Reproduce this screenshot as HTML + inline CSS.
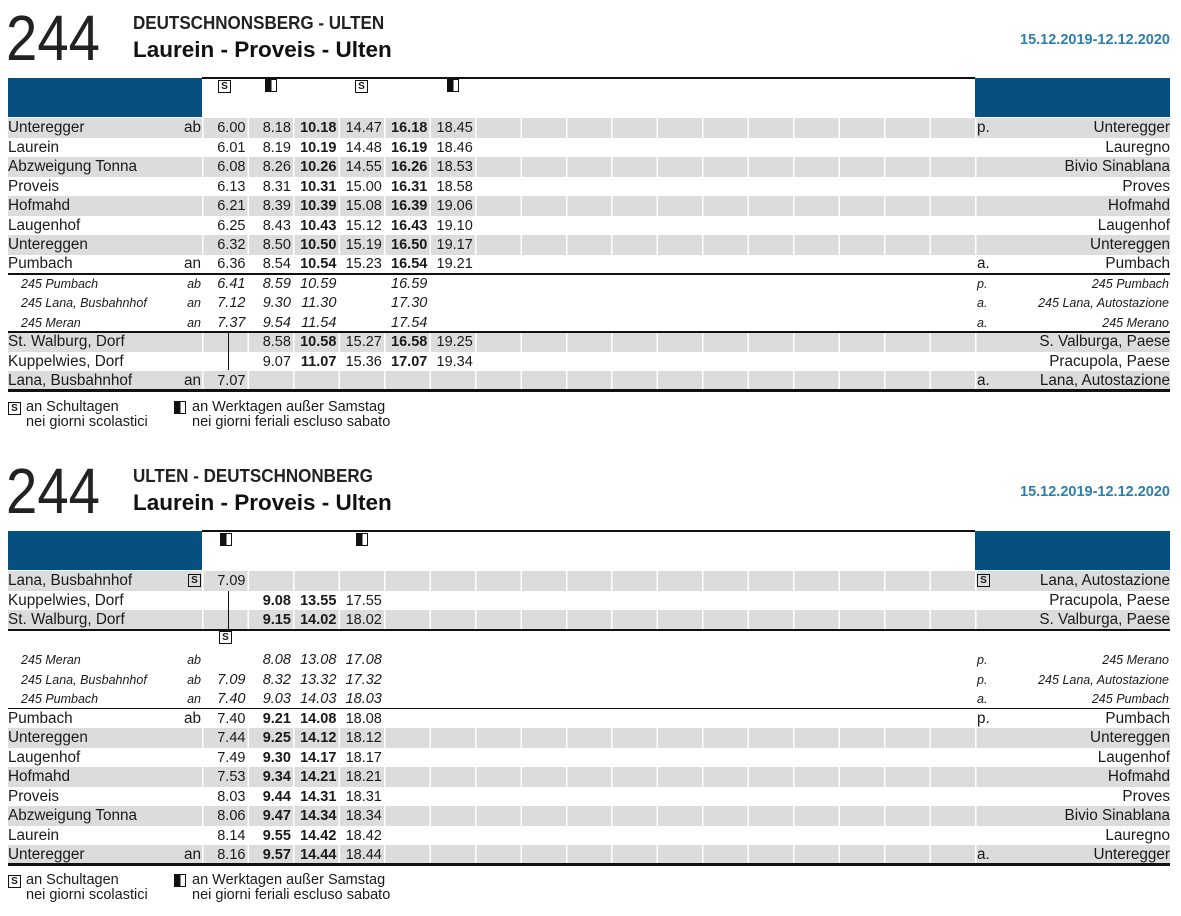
<!DOCTYPE html>
<html><head><meta charset="utf-8"><style>
*{margin:0;padding:0}
body{width:1181px;height:916px;background:#fff;position:relative;overflow:hidden;font-family:"Liberation Sans",Arial,sans-serif;color:#1a1a1a}
.a{position:absolute}
.num{font-size:64px;line-height:64px;transform:scaleX(.88);transform-origin:left;color:#222;left:6px}
.t1{left:133px;font-size:18.5px;font-weight:bold;transform:scaleX(.92);transform-origin:left;line-height:22px;color:#222}
.t2{left:133px;font-size:22.5px;font-weight:bold;line-height:24px;color:#111}
.date{right:11px;font-size:14.5px;font-weight:bold;color:#2b7fad;line-height:16px}
.blue{background:#05507f}
.ln{left:8px;width:1162px;background:#111}
.r{position:absolute;left:8px;width:1162px;height:19.5px;line-height:20px;display:flex;font-size:14.5px}
.g{background:#dcdcdd}
.g::before{content:"";position:absolute;left:194px;width:775px;top:0;bottom:0;background:repeating-linear-gradient(90deg,#fff 0 1.5px,transparent 1.5px 45.47px)}
.l{width:194px;display:flex;justify-content:space-between;padding-right:1px;box-sizing:border-box;position:relative;font-size:15.3px}
.l em,.rt em{font-style:normal}
.t{width:45.47px;text-align:right;padding-right:2px;box-sizing:border-box;position:relative;z-index:1}
.b{font-weight:bold}
.rt{position:absolute;left:967px;width:195px;display:flex;justify-content:space-between;padding-left:2px;box-sizing:border-box;z-index:1;font-size:15.3px}
.it{font-style:italic}
.it .l{font-size:12.5px;padding-left:13px}
.it .l em,.it .rt em{font-style:italic}
.it .rt{font-size:12.5px;padding-right:1px}
.s{display:inline-block;width:11px;height:11px;border:1.3px solid #111;font-size:10px;font-weight:bold;line-height:11px;text-align:center;font-style:normal;vertical-align:middle}
.h{display:inline-block;width:10px;height:11px;border:1.5px solid #111;background:linear-gradient(90deg,#111 55%,#fff 55%)}
.vl{width:1.2px;background:#111;left:227.5px}
.leg{font-size:14.5px;line-height:15px}
</style></head><body>

<!-- TOP -->
<div class="a num" style="top:6px">244</div>
<div class="a t1" style="top:12px">DEUTSCHNONSBERG - ULTEN</div>
<div class="a t2" style="top:38px">Laurein - Proveis - Ulten</div>
<div class="a date" style="top:32px">15.12.2019-12.12.2020</div>

<div class="a" style="left:202px;top:77px;width:773px;height:2px;background:#111"></div>
<div class="a blue" style="left:8px;top:78px;width:194px;height:39px"></div>
<div class="a blue" style="left:975px;top:78px;width:195px;height:39px"></div>
<span class="a s" style="left:218px;top:80px">S</span>
<span class="a h" style="left:265px;top:79px"></span>
<span class="a s" style="left:355px;top:80px">S</span>
<span class="a h" style="left:447px;top:79px"></span>

<div class="r g" style="top:118px"><span class="l">Unteregger<em>ab</em></span><span class="t">6.00</span><span class="t">8.18</span><span class="t b">10.18</span><span class="t">14.47</span><span class="t b">16.18</span><span class="t">18.45</span><span class="rt"><em>p.</em>Unteregger</span></div>
<div class="r" style="top:137.5px"><span class="l">Laurein</span><span class="t">6.01</span><span class="t">8.19</span><span class="t b">10.19</span><span class="t">14.48</span><span class="t b">16.19</span><span class="t">18.46</span><span class="rt"><em></em>Lauregno</span></div>
<div class="r g" style="top:157px"><span class="l">Abzweigung Tonna</span><span class="t">6.08</span><span class="t">8.26</span><span class="t b">10.26</span><span class="t">14.55</span><span class="t b">16.26</span><span class="t">18.53</span><span class="rt"><em></em>Bivio Sinablana</span></div>
<div class="r" style="top:176.5px"><span class="l">Proveis</span><span class="t">6.13</span><span class="t">8.31</span><span class="t b">10.31</span><span class="t">15.00</span><span class="t b">16.31</span><span class="t">18.58</span><span class="rt"><em></em>Proves</span></div>
<div class="r g" style="top:196px"><span class="l">Hofmahd</span><span class="t">6.21</span><span class="t">8.39</span><span class="t b">10.39</span><span class="t">15.08</span><span class="t b">16.39</span><span class="t">19.06</span><span class="rt"><em></em>Hofmahd</span></div>
<div class="r" style="top:215.5px"><span class="l">Laugenhof</span><span class="t">6.25</span><span class="t">8.43</span><span class="t b">10.43</span><span class="t">15.12</span><span class="t b">16.43</span><span class="t">19.10</span><span class="rt"><em></em>Laugenhof</span></div>
<div class="r g" style="top:235px"><span class="l">Untereggen</span><span class="t">6.32</span><span class="t">8.50</span><span class="t b">10.50</span><span class="t">15.19</span><span class="t b">16.50</span><span class="t">19.17</span><span class="rt"><em></em>Untereggen</span></div>
<div class="r" style="top:254px"><span class="l">Pumbach<em>an</em></span><span class="t">6.36</span><span class="t">8.54</span><span class="t b">10.54</span><span class="t">15.23</span><span class="t b">16.54</span><span class="t">19.21</span><span class="rt"><em>a.</em>Pumbach</span></div>
<div class="a ln" style="top:273px;height:1.5px"></div>
<div class="r it" style="top:274px"><span class="l">245 Pumbach<em>ab</em></span><span class="t">6.41</span><span class="t">8.59</span><span class="t">10.59</span><span class="t"></span><span class="t">16.59</span><span class="rt"><em>p.</em>245 Pumbach</span></div>
<div class="r it" style="top:293px"><span class="l">245 Lana, Busbahnhof<em>an</em></span><span class="t">7.12</span><span class="t">9.30</span><span class="t">11.30</span><span class="t"></span><span class="t">17.30</span><span class="rt"><em>a.</em>245 Lana, Autostazione</span></div>
<div class="r it" style="top:312.5px"><span class="l">245 Meran<em>an</em></span><span class="t">7.37</span><span class="t">9.54</span><span class="t">11.54</span><span class="t"></span><span class="t">17.54</span><span class="rt"><em>a.</em>245 Merano</span></div>
<div class="r g" style="top:332px"><span class="l">St. Walburg, Dorf</span><span class="t"></span><span class="t">8.58</span><span class="t b">10.58</span><span class="t">15.27</span><span class="t b">16.58</span><span class="t">19.25</span><span class="rt"><em></em>S. Valburga, Paese</span></div>
<div class="r" style="top:351.5px"><span class="l">Kuppelwies, Dorf</span><span class="t"></span><span class="t">9.07</span><span class="t b">11.07</span><span class="t">15.36</span><span class="t b">17.07</span><span class="t">19.34</span><span class="rt"><em></em>Pracupola, Paese</span></div>
<div class="r g" style="top:371px"><span class="l">Lana, Busbahnhof<em>an</em></span><span class="t">7.07</span><span class="rt"><em>a.</em>Lana, Autostazione</span></div>
<div class="a ln" style="top:331px;height:1.5px"></div>
<div class="a ln" style="top:389px;height:2.5px"></div>
<div class="a vl" style="top:331px;height:39px"></div>

<span class="a s" style="left:8px;top:402px">S</span>
<div class="a leg" style="left:26px;top:400px">an Schultagen<br>nei giorni scolastici</div>
<span class="a h" style="left:174px;top:401px"></span>
<div class="a leg" style="left:192px;top:400px">an Werktagen außer Samstag<br>nei giorni feriali escluso sabato</div>

<!-- BOTTOM -->
<div class="a num" style="top:459px">244</div>
<div class="a t1" style="top:465px">ULTEN - DEUTSCHNONBERG</div>
<div class="a t2" style="top:491px">Laurein - Proveis - Ulten</div>
<div class="a date" style="top:484px">15.12.2019-12.12.2020</div>

<div class="a" style="left:202px;top:530px;width:773px;height:2px;background:#111"></div>
<div class="a blue" style="left:8px;top:531px;width:194px;height:39px"></div>
<div class="a blue" style="left:975px;top:531px;width:195px;height:39px"></div>
<span class="a h" style="left:220px;top:533px"></span>
<span class="a h" style="left:356px;top:533px"></span>

<div class="r g" style="top:571px"><span class="l">Lana, Busbahnhof<em><span class="s">S</span></em></span><span class="t">7.09</span><span class="rt"><em><span class="s">S</span></em>Lana, Autostazione</span></div>
<div class="r" style="top:590.5px"><span class="l">Kuppelwies, Dorf</span><span class="t"></span><span class="t b">9.08</span><span class="t b">13.55</span><span class="t">17.55</span><span class="rt"><em></em>Pracupola, Paese</span></div>
<div class="r g" style="top:610px"><span class="l">St. Walburg, Dorf</span><span class="t"></span><span class="t b">9.15</span><span class="t b">14.02</span><span class="t">18.02</span><span class="rt"><em></em>S. Valburga, Paese</span></div>
<div class="a ln" style="top:629px;height:1.5px"></div>
<div class="a vl" style="top:591px;height:39px"></div>
<span class="a s" style="left:219px;top:631px">S</span>
<div class="r it" style="top:650px"><span class="l">245 Meran<em>ab</em></span><span class="t"></span><span class="t">8.08</span><span class="t">13.08</span><span class="t">17.08</span><span class="rt"><em>p.</em>245 Merano</span></div>
<div class="r it" style="top:669.5px"><span class="l">245 Lana, Busbahnhof<em>ab</em></span><span class="t">7.09</span><span class="t">8.32</span><span class="t">13.32</span><span class="t">17.32</span><span class="rt"><em>p.</em>245 Lana, Autostazione</span></div>
<div class="r it" style="top:689px"><span class="l">245 Pumbach<em>an</em></span><span class="t">7.40</span><span class="t">9.03</span><span class="t">14.03</span><span class="t">18.03</span><span class="rt"><em>a.</em>245 Pumbach</span></div>
<div class="a ln" style="top:707.5px;height:1.5px"></div>
<div class="r" style="top:708.5px"><span class="l">Pumbach<em>ab</em></span><span class="t">7.40</span><span class="t b">9.21</span><span class="t b">14.08</span><span class="t">18.08</span><span class="rt"><em>p.</em>Pumbach</span></div>
<div class="r g" style="top:728px"><span class="l">Untereggen</span><span class="t">7.44</span><span class="t b">9.25</span><span class="t b">14.12</span><span class="t">18.12</span><span class="rt"><em></em>Untereggen</span></div>
<div class="r" style="top:747.5px"><span class="l">Laugenhof</span><span class="t">7.49</span><span class="t b">9.30</span><span class="t b">14.17</span><span class="t">18.17</span><span class="rt"><em></em>Laugenhof</span></div>
<div class="r g" style="top:767px"><span class="l">Hofmahd</span><span class="t">7.53</span><span class="t b">9.34</span><span class="t b">14.21</span><span class="t">18.21</span><span class="rt"><em></em>Hofmahd</span></div>
<div class="r" style="top:786.5px"><span class="l">Proveis</span><span class="t">8.03</span><span class="t b">9.44</span><span class="t b">14.31</span><span class="t">18.31</span><span class="rt"><em></em>Proves</span></div>
<div class="r g" style="top:806px"><span class="l">Abzweigung Tonna</span><span class="t">8.06</span><span class="t b">9.47</span><span class="t b">14.34</span><span class="t">18.34</span><span class="rt"><em></em>Bivio Sinablana</span></div>
<div class="r" style="top:825.5px"><span class="l">Laurein</span><span class="t">8.14</span><span class="t b">9.55</span><span class="t b">14.42</span><span class="t">18.42</span><span class="rt"><em></em>Lauregno</span></div>
<div class="r g" style="top:845px"><span class="l">Unteregger<em>an</em></span><span class="t">8.16</span><span class="t b">9.57</span><span class="t b">14.44</span><span class="t">18.44</span><span class="rt"><em>a.</em>Unteregger</span></div>
<div class="a ln" style="top:863px;height:2.5px"></div>

<span class="a s" style="left:8px;top:875px">S</span>
<div class="a leg" style="left:26px;top:873px">an Schultagen<br>nei giorni scolastici</div>
<span class="a h" style="left:174px;top:874px"></span>
<div class="a leg" style="left:192px;top:873px">an Werktagen außer Samstag<br>nei giorni feriali escluso sabato</div>
</body></html>
